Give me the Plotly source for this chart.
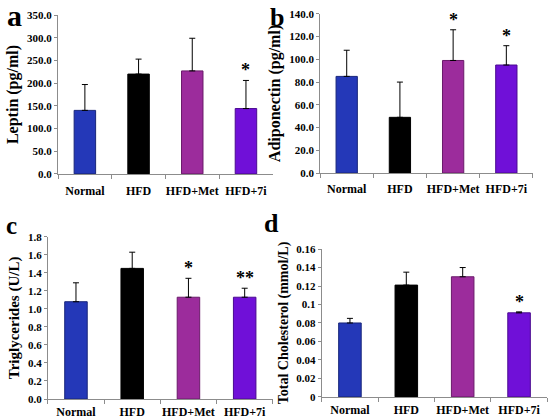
import plotly.graph_objects as go

groups = ["Normal", "HFD", "HFD+Met", "HFD+7i"]
colors = ["#2438b8", "#000000", "#9c2c9c", "#7010d8"]
line_colors = ["#18267a", "#000000", "#6a1a6a", "#4a0a90"]

leptin = [140.0, 220.0, 227.0, 144.0]
leptin_err = [57.0, 33.0, 72.0, 62.0]
leptin_sig = ["", "", "", "*"]

adiponectin = [85.0, 49.0, 99.0, 95.0]
adiponectin_err = [23.0, 31.0, 27.0, 17.0]
adiponectin_sig = ["", "", "*", "*"]

triglycerides = [1.08, 1.45, 1.13, 1.13]
triglycerides_err = [0.21, 0.18, 0.21, 0.10]
triglycerides_sig = ["", "", "*", "**"]

cholesterol = [0.080, 0.121, 0.130, 0.091]
cholesterol_err = [0.005, 0.014, 0.010, 0.001]
cholesterol_sig = ["", "", "", "*"]

serif = "Liberation Serif, Times New Roman, serif"

panels = [
    # values, errors, stars, y title, range, dtick, fmt, x domain, y domain,
    # panel letter, letter position, letter size, title size, x label standoff
    (leptin, leptin_err, leptin_sig, "Leptin (pg/ml)", 350, 50, ".1f",
     [0.1055, 0.496], [0.586, 0.964], "a", (0.027, 0.962), 30, 16, 6),
    (adiponectin, adiponectin_err, adiponectin_sig, "Adiponectin (pg/ml)", 140, 20, ".1f",
     [0.582, 0.969], [0.588, 0.967], "b", (0.504, 0.958), 26, 16, 5),
    (triglycerides, triglycerides_err, triglycerides_sig, "Triglycerides (U/L)", 1.8, 0.2, ".1f",
     [0.087, 0.496], [0.05, 0.436], "c", (0.021, 0.464), 25, 15, 2),
    (cholesterol, cholesterol_err, cholesterol_sig, "Total Cholesterol (mmol/L)", 0.16, 0.02, "",
     [0.585, 0.995], [0.055, 0.407], "d", (0.493, 0.467), 26, 14, 2),
]

fig = go.Figure()
layout = dict(
    width=550, height=420,
    margin=dict(l=0, r=0, t=0, b=0),
    paper_bgcolor="white", plot_bgcolor="white",
    showlegend=False,
    font=dict(family=serif, color="black"),
    annotations=[],
)

for i, (vals, errs, stars, ytitle, ymax, dtick, fmt, xdom, ydom,
        letter, lpos, lsize, tsize, xstand) in enumerate(panels):
    n = "" if i == 0 else str(i + 1)
    fig.add_trace(go.Bar(
        x=groups, y=vals,
        xaxis="x" + n, yaxis="y" + n,
        width=0.4,
        marker=dict(color=colors, line=dict(color=line_colors, width=1)),
        error_y=dict(type="data", symmetric=False, array=errs,
                     arrayminus=[0] * len(errs), color="black", thickness=1, width=3),
    ))
    layout["xaxis" + n] = dict(
        domain=xdom, anchor="y" + n, automargin=False,
        showline=True, linecolor="#8c8c8c", linewidth=1,
        ticks="outside", tickson="boundaries", ticklen=4, tickcolor="#8c8c8c",
        tickangle=0,
        tickfont=dict(family=serif, size=12, weight="bold"),
        ticklabelstandoff=xstand,
    )
    layout["yaxis" + n] = dict(
        domain=ydom, anchor="x" + n, automargin=False,
        range=[0, ymax], dtick=dtick, tickformat=fmt,
        showline=True, linecolor="#8c8c8c", linewidth=1, showgrid=False, zeroline=False,
        ticks="outside", ticklen=3, tickcolor="#8c8c8c",
        tickfont=dict(family=serif, size=11, weight="bold"),
        title=dict(text=ytitle, font=dict(family=serif, size=tsize, weight="bold"), standoff=4),
    )
    for g, v, e, s in zip(groups, vals, errs, stars):
        if s:
            layout["annotations"].append(dict(
                x=g, y=v + e, xref="x" + n, yref="y" + n,
                text=s, showarrow=False, yanchor="bottom", yshift=-2,
                font=dict(family=serif, size=18, weight="bold"),
            ))
    layout["annotations"].append(dict(
        x=lpos[0], y=lpos[1], xref="paper", yref="paper",
        text=letter, showarrow=False, xanchor="center", yanchor="middle",
        font=dict(family=serif, size=lsize, weight="bold"),
    ))

fig.update_layout(**layout)
# the page body has a default 8px margin, drop it so the figure fills the window
fig.write_html("out.html", config={"displayModeBar": False},
               post_script="document.body.style.margin = '0';")
